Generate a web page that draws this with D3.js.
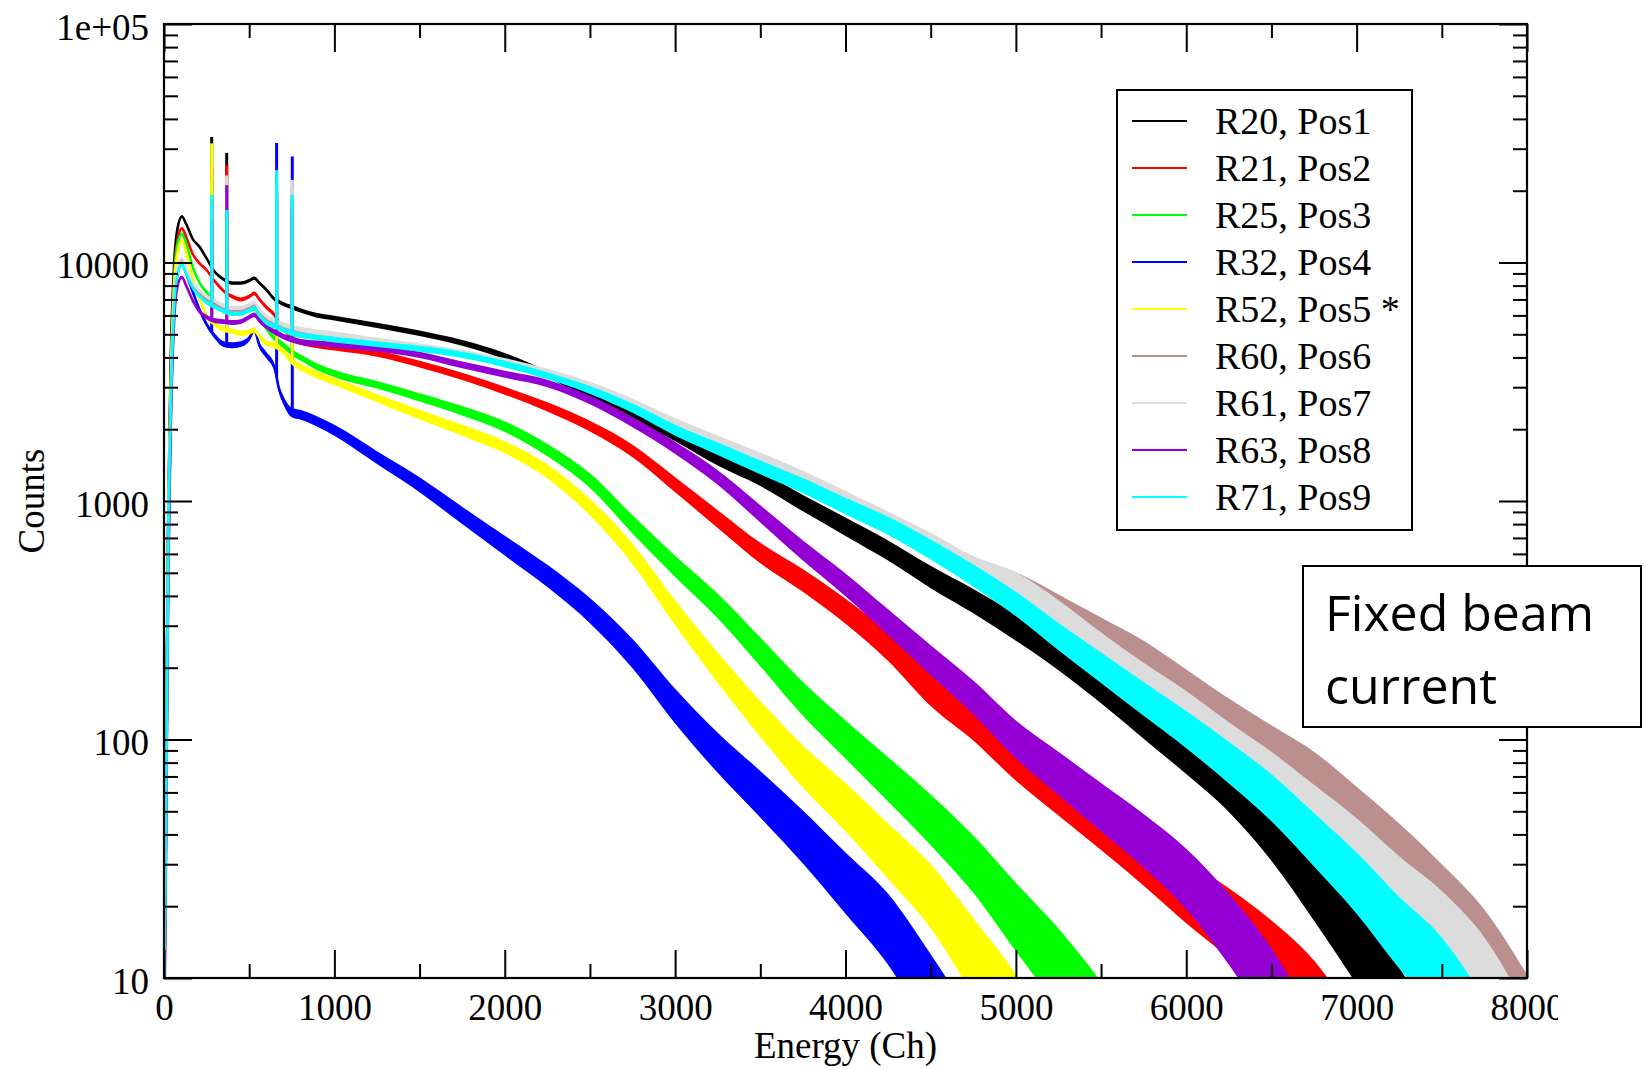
<!DOCTYPE html>
<html>
<head>
<meta charset="utf-8">
<script src="https://cdn.jsdelivr.net/npm/d3@7"></script>
<style>
  html, body { margin: 0; padding: 0; background: #ffffff; }
  svg { display: block; }
</style>
</head>
<body>
<svg id="chart" width="1647" height="1069"></svg>
<script>
// ---- Spectra: counts per energy channel for each run / position ----
const seriesNames  = ["R20, Pos1", "R21, Pos2", "R25, Pos3", "R32, Pos4", "R52, Pos5 *",
                      "R60, Pos6", "R61, Pos7", "R63, Pos8", "R71, Pos9"];
const seriesColors = ["#000000", "#ff0000", "#00ff00", "#0000ff", "#ffff00",
                      "#bc8f8f", "#dcdcdc", "#9400d3", "#00ffff"];

const channels = [0, 8, 15, 25, 40, 60, 80, 105, 130, 170, 210, 250, 300, 350, 400, 450, 500, 530, 560,
                  600, 650, 675, 700, 750, 800, 900, 1000, 1250, 1500, 1750, 2000, 2250, 2500, 2750, 3000,
                  3250, 3500, 3750, 4000, 4250, 4500, 4750, 5000, 5250, 5500, 5750, 6000, 6250, 6500, 6750,
                  7000, 7250, 7500, 7750, 8000];

const countsR20 = [8, 30, 150, 900, 4000, 10000, 14000, 15600, 14500, 12500, 11600, 10400, 9100, 8500, 8200, 8200, 8400, 8600, 8200,
                   7700, 7000, 6850, 6700, 6500, 6300, 6000, 5850, 5450, 5050, 4600, 4050, 3400, 2800, 2300, 1880,
                   1500, 1240, 980, 780, 620, 480, 380, 295, 225, 166, 120, 87, 62, 40, 23.5,
                   13.5, 7.5, 3.5, null, null];
const countsR21 = [8, 25, 120, 800, 3500, 9000, 12500, 13900, 12800, 10800, 9900, 9300, 8300, 7600, 7200, 7000, 7200, 7420, 7000,
                   6500, 6000, 5600, 5300, 4800, 4650, 4500, 4400, 4150, 3750, 3330, 2900, 2480, 2060, 1620, 1170,
                   840, 605, 464, 345, 245, 162, 118, 82, 60, 44, 32, 23, 17, 12, 8,
                   4.5, null, null, null, null];
const countsR25 = [8, 22, 110, 700, 3200, 8500, 12000, 13200, 12000, 9500, 8200, 7500, 6900, 6500, 6300, 6200, 6300, 6400, 5900,
                   5300, 4800, 4650, 4500, 4200, 4000, 3650, 3420, 3070, 2720, 2390, 2050, 1635, 1218, 798, 532,
                   363, 233, 148, 100, 68, 46, 30, 18, 11, 6.5, 3.5, null, null, null, null,
                   null, null, null, null, null];
const countsR32 = [8, 20, 80, 500, 2200, 6500, 9000, 9900, 9000, 7500, 6300, 5500, 4900, 4550, 4500, 4550, 4800, 5200, 4500,
                   4100, 3600, 2950, 2650, 2350, 2300, 2150, 1980, 1520, 1170, 870, 650, 485, 347, 229, 138,
                   88, 59, 39, 25, 16, 8.5, 4.5, null, null, null, null, null, null, null, null,
                   null, null, null, null, null];
const countsR52 = [8, 25, 100, 700, 3000, 8000, 11000, 12400, 11000, 8500, 7000, 6000, 5500, 5250, 5150, 5050, 5100, 5200, 4900,
                   4600, 4480, 4380, 4250, 3850, 3650, 3380, 3170, 2700, 2300, 1980, 1680, 1330, 942, 600, 340,
                   200, 122, 77, 52, 34, 22, 12.3, 7, 3.5, null, null, null, null, null, null,
                   null, null, null, null, null];
const countsR60 = [8, 22, 100, 660, 2600, 6800, 9400, 10200, 9300, 8000, 7400, 7000, 6700, 6450, 6300, 6300, 6500, 6650, 6200,
                   5800, 5550, 5450, 5350, 5200, 5100, 4950, 4850, 4600, 4380, 4130, 3800, 3420, 3000, 2540, 2090,
                   1750, 1480, 1230, 1010, 820, 660, 525, 450, 360, 285, 225, 168, 125, 95, 72,
                   50, 34, 22, 13.5, 7];
const countsR61 = [8, 22, 100, 680, 2700, 7000, 9600, 10400, 9500, 8200, 7600, 7200, 6900, 6600, 6450, 6450, 6650, 6800, 6350,
                   5950, 5700, 5600, 5500, 5350, 5250, 5100, 5000, 4700, 4450, 4180, 3850, 3470, 3050, 2580, 2120,
                   1780, 1500, 1250, 1020, 830, 670, 530, 450, 340, 245, 180, 135, 98, 72, 51,
                   36, 24, 16.5, 10, 5];
const countsR63 = [8, 15, 70, 500, 2200, 5800, 8000, 8700, 8000, 6900, 6200, 5900, 5700, 5650, 5600, 5650, 5900, 6030, 5700,
                   5400, 5100, 5000, 4900, 4750, 4650, 4580, 4520, 4350, 4100, 3720, 3400, 3110, 2650, 2140, 1670,
                   1255, 883, 620, 445, 310, 215, 150, 100, 72, 52, 37.6, 26, 16, 9, 4.5,
                   null, null, null, null, null];
const countsR71 = [8, 20, 90, 600, 2500, 6500, 9000, 9800, 9000, 7800, 7200, 6800, 6500, 6250, 6100, 6100, 6300, 6430, 6000,
                   5600, 5400, 5300, 5200, 5050, 4950, 4850, 4750, 4550, 4350, 4100, 3750, 3350, 2920, 2450, 1980,
                   1656, 1384, 1160, 953, 786, 626, 487, 370, 270, 200, 148, 110, 80, 57, 38,
                   25, 15.5, 10, 5.5, null];
const seriesCounts = [countsR20, countsR21, countsR25, countsR32, countsR52,
                      countsR60, countsR61, countsR63, countsR71];

// Narrow calibration lines: channel and the peak count reached by each run
const spikeChannels = [280, 368, 661, 753];
const spikeR20 = [33600, 28800, 20000, 18000];
const spikeR21 = [25000, 25600, 18000, 16000];
const spikeR25 = [22000, 15000, 16000, 14000];
const spikeR32 = [18000, 12000, 31700, 27800];
const spikeR52 = [31600, 14000, 15000, 13000];
const spikeR60 = [16000, 23300, 20000, 20500];
const spikeR61 = [17000, 23000, 21000, 22200];
const spikeR63 = [15000, 21100, 19000, 17000];
const spikeR71 = [19200, 16600, 24400, 19200];
const seriesSpikes = [spikeR20, spikeR21, spikeR25, spikeR32, spikeR52,
                      spikeR60, spikeR61, spikeR63, spikeR71];

// Channel-to-channel scatter (half spread in decades) at a given count level
const scatterCounts  = [10, 30, 100, 300, 1000, 3000, 10000];
const scatterHalfDec = [0.17, 0.12, 0.08, 0.055, 0.034, 0.016, 0.005];

// Axis ticks
const xMajorTicks  = [0, 1000, 2000, 3000, 4000, 5000, 6000, 7000, 8000];
const xTickLabels  = ["0", "1000", "2000", "3000", "4000", "5000", "6000", "7000", "8000"];
const xMinorTicks  = [500, 1500, 2500, 3500, 4500, 5500, 6500, 7500];
const yMajorTicks  = [10, 100, 1000, 10000, 100000];
const yTickLabels  = ["10", "100", "1000", "10000", "1e+05"];
const yMinorFactors = [2, 3, 4, 5, 6, 7, 8, 9];

// ---- Layout ----
const W = 1647, H = 1069;
const plot = { left: 164, right: 1527, top: 24, bottom: 978 };
const serif = "'Liberation Serif', 'Times New Roman', Times, serif";

const svg = d3.select("#chart");
const defs = svg.append("defs");
defs.append("clipPath").attr("id", "plotClip").append("rect")
  .attr("x", plot.left).attr("y", plot.top)
  .attr("width", plot.right - plot.left).attr("height", plot.bottom - plot.top);
defs.append("clipPath").attr("id", "pageClip").append("rect")
  .attr("x", 0).attr("y", 0).attr("width", 1558).attr("height", H);

const x = d3.scaleLinear().domain([0, 8000]).range([plot.left, plot.right]);
const y = d3.scaleLog().domain([10, 100000]).range([plot.bottom, plot.top]);

const yMinorTicks = [];
yMajorTicks.slice(0, -1).forEach(d => yMinorFactors.forEach(f => yMinorTicks.push(d * f)));

const chart = svg.append("g").attr("clip-path", "url(#pageClip)");

// ---- Spectra ----
const logScatter = scatterCounts.map(Math.log10);
function halfSpread(v) {
  const l = Math.log10(Math.max(v, 1));
  if (l <= logScatter[0]) return scatterHalfDec[0];
  if (l >= logScatter[logScatter.length - 1]) return scatterHalfDec[scatterHalfDec.length - 1];
  const i = d3.bisectRight(logScatter, l) - 1;
  const t = (l - logScatter[i]) / (logScatter[i + 1] - logScatter[i]);
  return scatterHalfDec[i] + t * (scatterHalfDec[i + 1] - scatterHalfDec[i]);
}
function levelOnTrace(vals, ch) {
  const i = d3.bisectRight(channels, ch) - 1;
  const a = vals[i], b = vals[i + 1];
  const t = (ch - channels[i]) / (channels[i + 1] - channels[i]);
  return Math.pow(10, Math.log10(a) + t * (Math.log10(b) - Math.log10(a)));
}

const band = d3.area()
  .defined(d => d.v != null)
  .curve(d3.curveMonotoneX)
  .x(d => x(d.ch))
  .y0(d => y(d.v / Math.pow(10, halfSpread(d.v))))
  .y1(d => y(d.v * Math.pow(10, halfSpread(d.v))));
const trace = d3.line()
  .defined(d => d.v != null)
  .curve(d3.curveMonotoneX)
  .x(d => x(d.ch))
  .y(d => y(d.v));

const dataLayer = chart.append("g").attr("clip-path", "url(#plotClip)");
seriesCounts.forEach((vals, s) => {
  const pts = channels.map((ch, i) => ({ ch: ch, v: vals[i] }));
  const g = dataLayer.append("g").attr("class", "series");
  g.append("path").datum(pts).attr("d", band)
    .attr("fill", seriesColors[s]).attr("stroke", "none");
  g.append("path").datum(pts).attr("d", trace)
    .attr("fill", "none").attr("stroke", seriesColors[s])
    .attr("stroke-width", 2.6).attr("stroke-linejoin", "miter");
  g.selectAll("line.spike").data(spikeChannels).enter().append("line")
    .attr("class", "spike")
    .attr("x1", d => x(d)).attr("x2", d => x(d))
    .attr("y1", d => y(levelOnTrace(vals, d)))
    .attr("y2", (d, k) => y(seriesSpikes[s][k]))
    .attr("stroke", seriesColors[s]).attr("stroke-width", 3);
});

// ---- Axes (ticks point inward on all four sides) ----
function styleAxis(g) {
  g.select(".domain").remove();
  g.selectAll(".tick line").attr("stroke", "#000").attr("stroke-width", 2);
}
const axes = chart.append("g");

axes.append("g").attr("transform", `translate(0,${plot.bottom})`)
  .call(d3.axisBottom(x).tickValues(xMajorTicks).tickSize(-28).tickSizeOuter(0)
    .tickFormat((d, i) => xTickLabels[i]))
  .call(styleAxis)
  .call(g => g.selectAll(".tick text")
    .attr("y", 42).attr("dy", null)
    .attr("font-family", serif).attr("font-size", 37).attr("fill", "#000"));
axes.append("g").attr("transform", `translate(0,${plot.bottom})`)
  .call(d3.axisBottom(x).tickValues(xMinorTicks).tickSize(-14).tickSizeOuter(0).tickFormat(""))
  .call(styleAxis);
axes.append("g").attr("transform", `translate(0,${plot.top})`)
  .call(d3.axisTop(x).tickValues(xMajorTicks).tickSize(-28).tickSizeOuter(0).tickFormat(""))
  .call(styleAxis);
axes.append("g").attr("transform", `translate(0,${plot.top})`)
  .call(d3.axisTop(x).tickValues(xMinorTicks).tickSize(-14).tickSizeOuter(0).tickFormat(""))
  .call(styleAxis);

axes.append("g").attr("transform", `translate(${plot.left},0)`)
  .call(d3.axisLeft(y).tickValues(yMajorTicks).tickSize(-28).tickSizeOuter(0)
    .tickFormat((d, i) => yTickLabels[i]))
  .call(styleAxis)
  .call(g => g.selectAll(".tick text")
    .attr("x", -15).attr("y", 15).attr("dy", null)
    .attr("font-family", serif).attr("font-size", 37).attr("fill", "#000"));
axes.append("g").attr("transform", `translate(${plot.left},0)`)
  .call(d3.axisLeft(y).tickValues(yMinorTicks).tickSize(-14).tickSizeOuter(0).tickFormat(""))
  .call(styleAxis);
axes.append("g").attr("transform", `translate(${plot.right},0)`)
  .call(d3.axisRight(y).tickValues(yMajorTicks).tickSize(-28).tickSizeOuter(0).tickFormat(""))
  .call(styleAxis);
axes.append("g").attr("transform", `translate(${plot.right},0)`)
  .call(d3.axisRight(y).tickValues(yMinorTicks).tickSize(-14).tickSizeOuter(0).tickFormat(""))
  .call(styleAxis);

// Frame
axes.append("rect")
  .attr("x", plot.left).attr("y", plot.top)
  .attr("width", plot.right - plot.left).attr("height", plot.bottom - plot.top)
  .attr("fill", "none").attr("stroke", "#000").attr("stroke-width", 2.2);

// Axis titles
chart.append("text")
  .attr("x", (plot.left + plot.right) / 2).attr("y", 1058)
  .attr("text-anchor", "middle")
  .attr("font-family", serif).attr("font-size", 37)
  .text("Energy (Ch)");
chart.append("text")
  .attr("transform", `translate(44,${(plot.top + plot.bottom) / 2}) rotate(-90)`)
  .attr("text-anchor", "middle")
  .attr("font-family", serif).attr("font-size", 37)
  .text("Counts");

// ---- Legend ----
const legend = chart.append("g");
legend.append("rect")
  .attr("x", 1117).attr("y", 90).attr("width", 295).attr("height", 440)
  .attr("fill", "#fff").attr("stroke", "#000").attr("stroke-width", 2);
const rowY = d3.scalePoint().domain(seriesNames).range([121, 497]);
seriesNames.forEach((name, s) => {
  legend.append("line")
    .attr("x1", 1132).attr("x2", 1187)
    .attr("y1", rowY(name)).attr("y2", rowY(name))
    .attr("stroke", seriesColors[s]).attr("stroke-width", 2);
  legend.append("text")
    .attr("x", 1215).attr("y", rowY(name) + 13)
    .attr("font-family", serif).attr("font-size", 38)
    .text(name);
});

// ---- Annotation box ----
const note = svg.append("g");
note.append("rect")
  .attr("x", 1303).attr("y", 566).attr("width", 338).attr("height", 161)
  .attr("fill", "#fff").attr("stroke", "#000").attr("stroke-width", 2);
note.append("text")
  .attr("x", 1325).attr("y", 631)
  .attr("font-family", "'Open Sans', 'Noto Sans', sans-serif").attr("font-size", 50)
  .text("Fixed beam");
note.append("text")
  .attr("x", 1325).attr("y", 704)
  .attr("font-family", "'Open Sans', 'Noto Sans', sans-serif").attr("font-size", 50)
  .text("current");
</script>
</body>
</html>
